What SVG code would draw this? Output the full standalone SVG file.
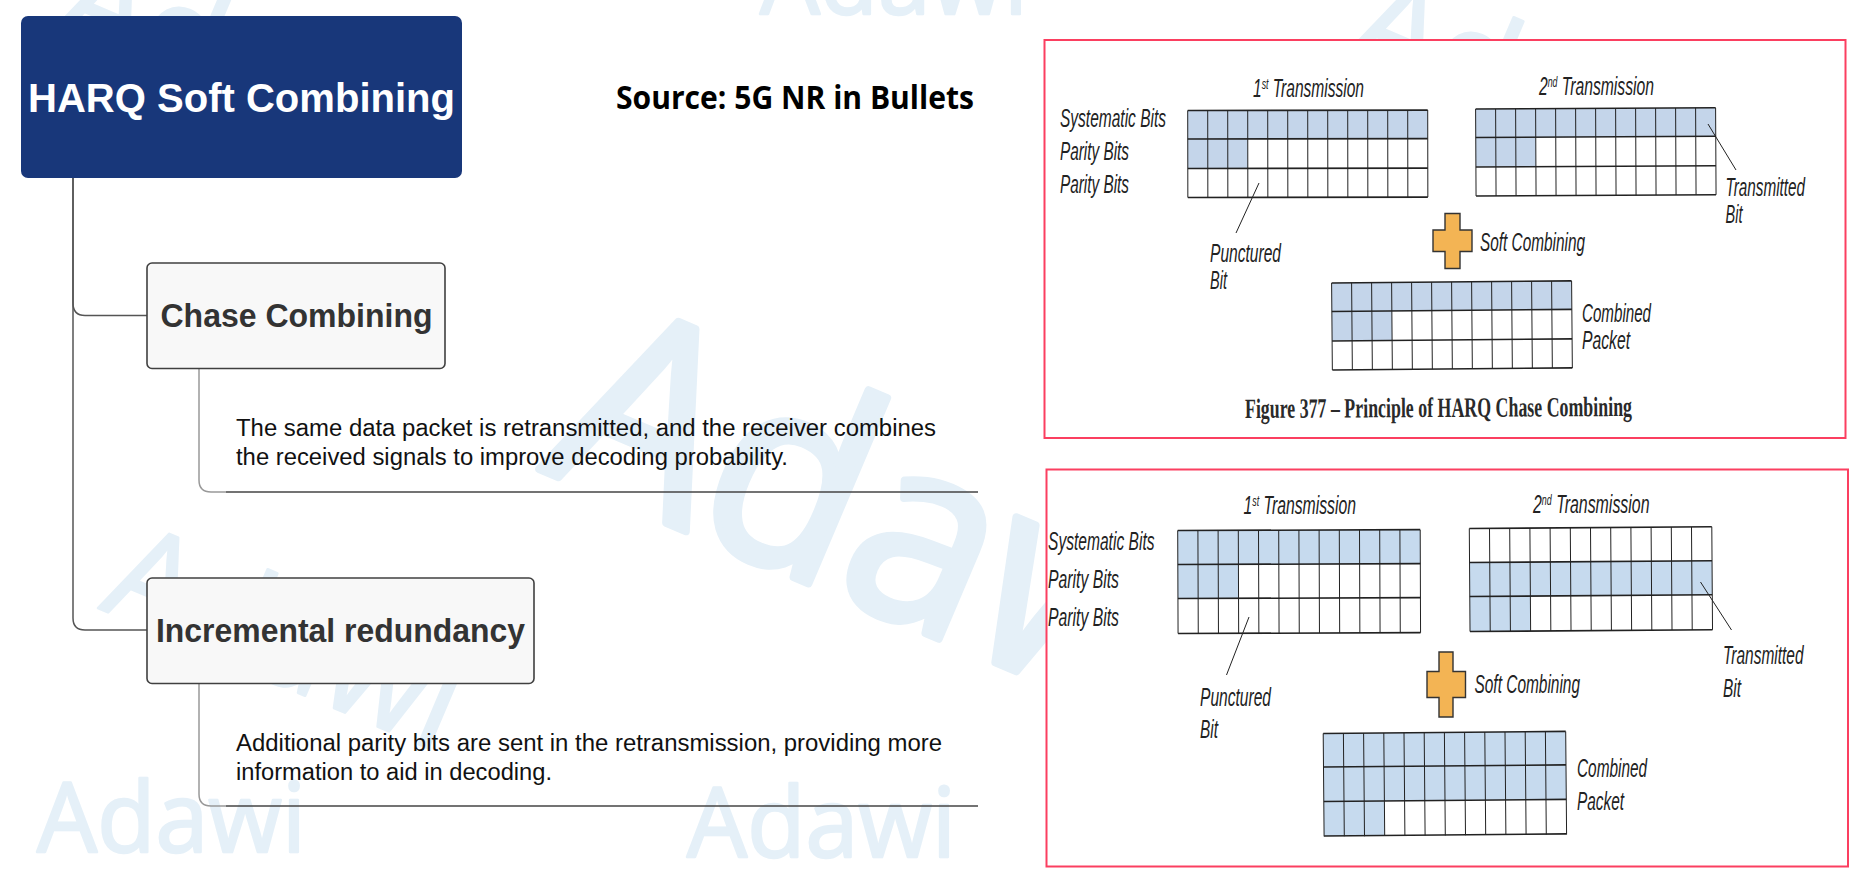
<svg xmlns="http://www.w3.org/2000/svg" width="1864" height="878" viewBox="0 0 1864 878">
<style>
.wm{font-family:"Open Sans","Noto Sans",sans-serif;fill:#e5f0f8;stroke:#e5f0f8;stroke-width:2.5;stroke-linejoin:round}
.big{stroke-width:8}
.frame{fill:#fff;stroke:#fb3f60;stroke-width:2}
.cell{fill:#c4d5ea}
.cell2{fill:#c6daee}
.ln{fill:none;stroke:#222;stroke-width:1}
.hl{fill:none;stroke:#222;stroke-width:1.6}
.cross{fill:#f3b454;stroke:#333;stroke-width:1.4}
.lead{fill:none;stroke:#222;stroke-width:1}
.lab{font-family:"Liberation Sans",Arial,sans-serif;font-style:italic;font-size:25px;fill:#222}
.cap{font-family:"Liberation Serif","Times New Roman",serif;font-weight:bold;font-size:28px;fill:#2a2a2a}
.sup{font-size:14px}
.body{font-family:"Liberation Sans",Arial,sans-serif;font-size:23px;fill:#111}
.sub{fill:#f8f8f8;stroke:#404040;stroke-width:1.6}
.subt{font-family:"Liberation Sans",Arial,sans-serif;font-weight:bold;font-size:34px;fill:#333}
.c1{fill:none;stroke:#555;stroke-width:1.5}
.c2{fill:none;stroke:#999;stroke-width:1.5}
.c3{fill:none;stroke:#444;stroke-width:1.3}
</style>
<defs>
<path id="v1" d="M0 0V87M20 0V87M40 0V87M60 0V87M80 0V87M100 0V87M120 0V87M140 0V87M160 0V87M180 0V87M200 0V87M220 0V87M240 0V87"/>
<path id="v2" d="M0 0V103M20.2 0V103M40.4 0V103M60.6 0V103M80.8 0V103M101 0V103M121.2 0V103M141.4 0V103M161.6 0V103M181.8 0V103M202 0V103M222.2 0V103M242.5 0V103"/>
</defs>
<rect width="1864" height="878" fill="#fff"/>
<g id="watermarks">
<text class="wm" x="0" y="0" font-size="134" textLength="370" lengthAdjust="spacingAndGlyphs" transform="translate(52 31) rotate(23)">Adawi</text>
<text class="wm" x="0" y="0" font-size="134" textLength="370" lengthAdjust="spacingAndGlyphs" transform="translate(1344 56) rotate(23)">Adawi</text>
<text class="wm" x="760" y="14" font-size="97" textLength="268" lengthAdjust="spacingAndGlyphs">Adawi</text>
<text class="wm big" x="0" y="0" font-size="265" textLength="715" lengthAdjust="spacingAndGlyphs" transform="translate(539 469) rotate(23)">Adawi</text>
<text class="wm" x="0" y="0" font-size="134" textLength="370" lengthAdjust="spacingAndGlyphs" transform="translate(98 608) rotate(23)">Adawi</text>
<text class="wm" x="37" y="852" font-size="97" textLength="269" lengthAdjust="spacingAndGlyphs">Adawi</text>
<text class="wm" x="687" y="857" font-size="97" textLength="269" lengthAdjust="spacingAndGlyphs">Adawi</text>
</g>
<g id="connectors">
<path class="c1" d="M73 177V303Q73 315.500 85 315.500H147"/>
<path class="c1" d="M73 177V618Q73 630 85 630H147"/>
<path class="c2" d="M199 368V480Q199 492 211 492H226"/>
<path class="c3" d="M226 492H978"/>
<path class="c2" d="M199 683V794Q199 806 211 806H226"/>
<path class="c3" d="M226 806H978"/>
</g>
<g id="root">
<rect x="21" y="16" width="441" height="162" rx="7" fill="#18377a"/>
<text x="28" y="111.500" font-family="'Liberation Sans',Arial,sans-serif" font-weight="bold" font-size="40" fill="#fff" textLength="427" lengthAdjust="spacingAndGlyphs">HARQ Soft Combining</text>
</g>
<g id="source">
<text x="616" y="108.500" font-family="'Open Sans','Noto Sans',sans-serif" font-weight="bold" font-size="32" fill="#000" textLength="358" lengthAdjust="spacingAndGlyphs">Source: 5G NR in Bullets</text>
</g>
<g id="chase">
<rect class="sub" x="147" y="263" width="298" height="105.500" rx="5"/>
<text class="subt" x="160.500" y="327" textLength="272" lengthAdjust="spacingAndGlyphs">Chase Combining</text>
</g>
<g id="chase-note">
<text class="body" x="236" y="436" textLength="700" lengthAdjust="spacingAndGlyphs">The same data packet is retransmitted, and the receiver combines</text>
<text class="body" x="236" y="465" textLength="552" lengthAdjust="spacingAndGlyphs">the received signals to improve decoding probability.</text>
</g>
<g id="incremental">
<rect class="sub" x="147" y="578" width="387" height="105.500" rx="5"/>
<text class="subt" x="156" y="642" textLength="369" lengthAdjust="spacingAndGlyphs">Incremental redundancy</text>
</g>
<g id="incremental-note">
<text class="body" x="236" y="751" textLength="706" lengthAdjust="spacingAndGlyphs">Additional parity bits are sent in the retransmission, providing more</text>
<text class="body" x="236" y="780" textLength="316" lengthAdjust="spacingAndGlyphs">information to aid in decoding.</text>
</g>
<g id="chase-figure">
<rect class="frame" x="1044.500" y="40" width="801" height="398"/>
<g transform="translate(1187.700 110.500) rotate(-0.1)">
<rect class="cell" width="240" height="28.500"/><rect class="cell" y="28.500" width="60" height="29"/>
<use href="#v1" class="ln"/><path class="hl" d="M0 0H240M0 28.500H240M0 58H240M0 87H240"/>
</g>
<g transform="translate(1475.600 109) rotate(-0.3)">
<rect class="cell" width="240" height="28.500"/><rect class="cell" y="28.500" width="60" height="29"/>
<use href="#v1" class="ln"/><path class="hl" d="M0 0H240M0 28.500H240M0 58H240M0 87H240"/>
</g>
<g transform="translate(1331.600 283) rotate(-0.5)">
<rect class="cell" width="240" height="28.500"/><rect class="cell" y="28.500" width="60" height="29"/>
<use href="#v1" class="ln"/><path class="hl" d="M0 0H240M0 28.500H240M0 58H240M0 87H240"/>
</g>
<path class="cross" d="M1445 213.500H1460V230H1472V251.500H1460V268.500H1445V251.500H1433V230H1445Z"/>
<path class="lead" d="M1259 183L1236 233M1708 124L1736 170"/>
<text class="lab" x="1253" y="97" textLength="111" lengthAdjust="spacingAndGlyphs">1<tspan class="sup" dy="-8">st</tspan><tspan dy="8"> Transmission</tspan></text>
<text class="lab" x="1539" y="95" textLength="115" lengthAdjust="spacingAndGlyphs">2<tspan class="sup" dy="-8">nd</tspan><tspan dy="8"> Transmission</tspan></text>
<text class="lab" x="1060" y="127" textLength="106" lengthAdjust="spacingAndGlyphs">Systematic Bits</text>
<text class="lab" x="1060" y="159.500" textLength="69" lengthAdjust="spacingAndGlyphs">Parity Bits</text>
<text class="lab" x="1060" y="192.500" textLength="69" lengthAdjust="spacingAndGlyphs">Parity Bits</text>
<text class="lab" x="1725.500" y="196" textLength="79.500" lengthAdjust="spacingAndGlyphs">Transmitted</text>
<text class="lab" x="1725.500" y="223" textLength="17" lengthAdjust="spacingAndGlyphs">Bit</text>
<text class="lab" x="1210" y="261.500" textLength="71" lengthAdjust="spacingAndGlyphs">Punctured</text>
<text class="lab" x="1210" y="288.500" textLength="17" lengthAdjust="spacingAndGlyphs">Bit</text>
<text class="lab" x="1480" y="250.500" textLength="105" lengthAdjust="spacingAndGlyphs">Soft Combining</text>
<text class="lab" x="1582" y="321.500" textLength="69" lengthAdjust="spacingAndGlyphs">Combined</text>
<text class="lab" x="1582" y="349" textLength="48" lengthAdjust="spacingAndGlyphs">Packet</text>
<text class="cap" x="1245" y="418" textLength="387" lengthAdjust="spacingAndGlyphs" transform="rotate(-0.3 1245 418)">Figure 377 – Principle of HARQ Chase Combining</text>
</g>
<g id="ir-figure">
<rect class="frame" x="1046.500" y="469.500" width="801.500" height="397"/>
<g transform="translate(1177.700 530.500) rotate(-0.2)">
<rect class="cell2" width="242.500" height="34"/><rect class="cell2" y="34" width="60.600" height="34"/>
<use href="#v2" class="ln"/><path class="hl" d="M0 0H242.500M0 34H242.500M0 68H242.500M0 103H242.500"/>
</g>
<g transform="translate(1469.300 528.500) rotate(-0.4)">
<rect class="cell2" y="34" width="242.500" height="34"/><rect class="cell2" y="68" width="60.600" height="35"/>
<use href="#v2" class="ln"/><path class="hl" d="M0 0H242.500M0 34H242.500M0 68H242.500M0 103H242.500"/>
</g>
<g transform="translate(1323.200 733.500) rotate(-0.5)">
<rect class="cell2" width="242.500" height="68"/><rect class="cell2" y="68" width="60.600" height="34.500"/>
<use href="#v2" class="ln"/><path class="hl" d="M0 0H242.500M0 33.500H242.500M0 68H242.500M0 102.500H242.500"/>
</g>
<path class="cross" d="M1439 652H1453V671.500H1465.500V697.500H1453V717H1439V697.500H1427V671.500H1439Z"/>
<path class="lead" d="M1249 617L1226.500 675M1700.500 582L1731.500 630"/>
<text class="lab" x="1243.500" y="514" textLength="112.500" lengthAdjust="spacingAndGlyphs">1<tspan class="sup" dy="-8">st</tspan><tspan dy="8"> Transmission</tspan></text>
<text class="lab" x="1533" y="512.500" textLength="116.500" lengthAdjust="spacingAndGlyphs">2<tspan class="sup" dy="-8">nd</tspan><tspan dy="8"> Transmission</tspan></text>
<text class="lab" x="1048" y="549.500" textLength="106.500" lengthAdjust="spacingAndGlyphs">Systematic Bits</text>
<text class="lab" x="1048" y="587.500" textLength="71" lengthAdjust="spacingAndGlyphs">Parity Bits</text>
<text class="lab" x="1048" y="625.500" textLength="71" lengthAdjust="spacingAndGlyphs">Parity Bits</text>
<text class="lab" x="1200" y="706" textLength="71" lengthAdjust="spacingAndGlyphs">Punctured</text>
<text class="lab" x="1200" y="738" textLength="18" lengthAdjust="spacingAndGlyphs">Bit</text>
<text class="lab" x="1474.500" y="693" textLength="105.500" lengthAdjust="spacingAndGlyphs">Soft Combining</text>
<text class="lab" x="1723" y="663.500" textLength="80.500" lengthAdjust="spacingAndGlyphs">Transmitted</text>
<text class="lab" x="1723" y="696.500" textLength="18" lengthAdjust="spacingAndGlyphs">Bit</text>
<text class="lab" x="1577" y="777" textLength="70" lengthAdjust="spacingAndGlyphs">Combined</text>
<text class="lab" x="1577" y="809.500" textLength="47" lengthAdjust="spacingAndGlyphs">Packet</text>
</g>
</svg>
